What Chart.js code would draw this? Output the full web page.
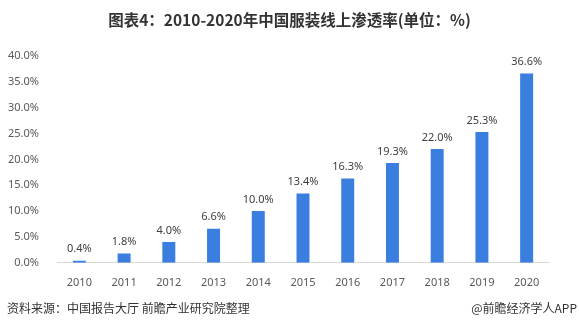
<!DOCTYPE html>
<html>
<head>
<meta charset="utf-8">
<script src="https://cdn.jsdelivr.net/npm/chart.js@4"></script>
<style>
  body { margin: 0; background: #fff; }
  #wrap { position: relative; width: 579px; height: 330px; }
  .foot { position: absolute; top: 299px; font: 12px "Noto Sans CJK SC", sans-serif; color: #333; }
  .title { position: absolute; top: 8px; left: 0; width: 579px; text-align: center;
           font: bold 15.5px "Noto Sans CJK SC", sans-serif; color: #333; }
</style>
</head>
<body>
<div id="wrap">
  <canvas id="barChart" width="579" height="330"></canvas>
  <div class="title" id="title"></div>
  <div class="foot" style="left:7px">资料来源：中国报告大厅 前瞻产业研究院整理</div>
  <div class="foot" style="right:2px">@前瞻经济学人APP</div>
</div>
<script>
const years = ['2010', '2011', '2012', '2013', '2014', '2015', '2016', '2017', '2018', '2019', '2020'];
const penetration = [0.4, 1.8, 4.0, 6.6, 10.0, 13.4, 16.3, 19.3, 22.0, 25.3, 36.6];
const titleText = '图表4：2010-2020年中国服装线上渗透率(单位：%)';

document.getElementById('title').textContent = titleText;

// value labels above each bar
const valueLabels = {
    id: 'valueLabels',
    afterDatasetsDraw(chart) {
        const ctx = chart.ctx;
        const meta = chart.getDatasetMeta(0);
        ctx.save();
        ctx.font = '11px "Noto Sans", sans-serif';
        ctx.fillStyle = '#404040';
        ctx.textAlign = 'center';
        ctx.textBaseline = 'bottom';
        meta.data.forEach((bar, i) => {
            ctx.fillText(penetration[i].toFixed(1) + '%', bar.x, bar.y - 6);
        });
        ctx.restore();
    }
};

const ctx = document.getElementById('barChart').getContext('2d');
new Chart(ctx, {
    type: 'bar',
    data: {
        labels: years,
        datasets: [{
            data: penetration,
            backgroundColor: '#3a7ee0',
            barPercentage: 0.58,
            categoryPercentage: 0.5
        }]
    },
    options: {
        responsive: false,
        animation: false,
        layout: { padding: { left: 0, right: 30, top: 56, bottom: 36 } },
        plugins: {
            legend: { display: false },
            tooltip: { enabled: false }
        },
        scales: {
            x: {
                grid: { display: false },
                border: { color: '#d9d9d9' },
                ticks: {
                    color: '#595959',
                    font: { family: '"Noto Sans", sans-serif', size: 11 },
                    padding: 5
                }
            },
            y: {
                min: 0,
                max: 40,
                afterFit: s => { s.width = 57; },
                grid: { display: false },
                border: { display: false },
                ticks: {
                    stepSize: 5,
                    color: '#595959',
                    padding: 10,
                    font: { family: '"Noto Sans", sans-serif', size: 11 },
                    callback: v => v.toFixed(1) + '%'
                }
            }
        }
    },
    plugins: [valueLabels]
});
</script>
</body>
</html>
